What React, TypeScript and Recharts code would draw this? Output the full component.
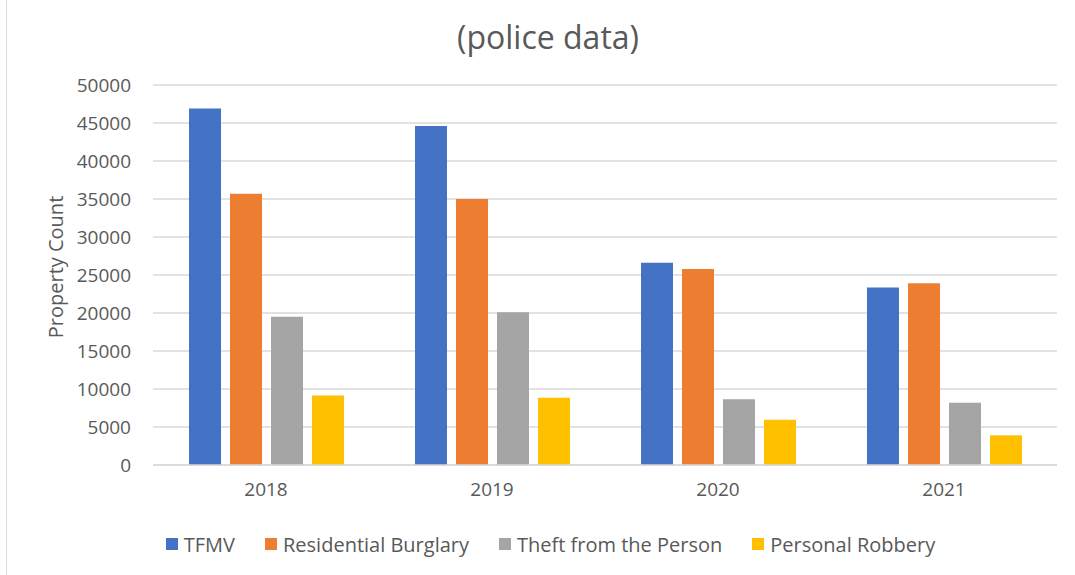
import { Bar, BarChart, CartesianGrid, Legend, XAxis, YAxis } from "recharts";

const YEARS = ["2018", "2019", "2020", "2021"];
const TFMV = [46900, 44600, 26600, 23350];
const BURGLARY = [35700, 35000, 25800, 23900];
const THEFT_PERSON = [19500, 20100, 8650, 8200];
const ROBBERY = [9150, 8850, 5950, 3900];
const Y_TICKS = [0, 5000, 10000, 15000, 20000, 25000, 30000, 35000, 40000, 45000, 50000];

const SERIES = [
  { key: "tfmv", name: "TFMV", color: "#4472C4" },
  { key: "burglary", name: "Residential Burglary", color: "#ED7D31" },
  { key: "theft", name: "Theft from the Person", color: "#A5A5A5" },
  { key: "robbery", name: "Personal Robbery", color: "#FFC000" },
];

const data = YEARS.map((year, i) => ({
  year,
  tfmv: TFMV[i],
  burglary: BURGLARY[i],
  theft: THEFT_PERSON[i],
  robbery: ROBBERY[i],
}));

const FONT = "'Open Sans', sans-serif";
const INK = "#595959";

function LegendRow() {
  return (
    <div
      style={{
        height: 30,
        display: "flex",
        justifyContent: "center",
        alignItems: "center",
        paddingLeft: 44,
        fontFamily: FONT,
        fontSize: 20,
        color: INK,
      }}
    >
      {SERIES.map((s) => (
        <div key={s.key} style={{ display: "flex", alignItems: "center", margin: "0 15px" }}>
          <span style={{ width: 12, height: 12, background: s.color, marginRight: 6 }} />
          <span>{s.name}</span>
        </div>
      ))}
    </div>
  );
}

export default function App() {
  return (
    <div style={{ position: "absolute", left: 0, top: 0, width: 1075, height: 575, background: "#fff" }}>
      <div
        style={{ position: "absolute", left: 6, top: 0, width: 1, height: 575, background: "#d9d9d9" }}
      />
      <div
        style={{
          position: "absolute",
          left: 0,
          top: 15,
          width: 1096,
          textAlign: "center",
          fontFamily: FONT,
          fontSize: 32,
          color: INK,
        }}
      >
        (police data)
      </div>
      <BarChart
        width={1075}
        height={575}
        data={data}
        margin={{ top: 85, right: 18, bottom: 16, left: 0 }}
        barGap={9}
        barSize={32}
      >
        <CartesianGrid vertical={false} stroke="#d9d9d9" strokeWidth={1.3} />
        <XAxis
          dataKey="year"
          axisLine={{ stroke: "#d9d9d9", strokeWidth: 1.3 }}
          tickLine={false}
          tickSize={0}
          tickMargin={18}
          height={64}
          tick={{ fill: INK, fontSize: 19, fontFamily: FONT }}
        />
        <YAxis
          width={153}
          domain={[0, 50000]}
          ticks={Y_TICKS}
          axisLine={false}
          tickLine={false}
          tickSize={0}
          tickMargin={22}
          tick={{ fill: INK, fontSize: 19, fontFamily: FONT }}
          label={{
            content: () => (
              <text
                x={55}
                y={267}
                transform="rotate(-90 55 267)"
                textAnchor="middle"
                dominantBaseline="central"
                fill={INK}
                fontSize={20}
                fontFamily={FONT}
              >
                Property Count
              </text>
            ),
          }}
        />
        <Legend verticalAlign="bottom" content={() => <LegendRow />} />
        {SERIES.map((s) => (
          <Bar key={s.key} dataKey={s.key} name={s.name} fill={s.color} isAnimationActive={false} />
        ))}
      </BarChart>
    </div>
  );
}
